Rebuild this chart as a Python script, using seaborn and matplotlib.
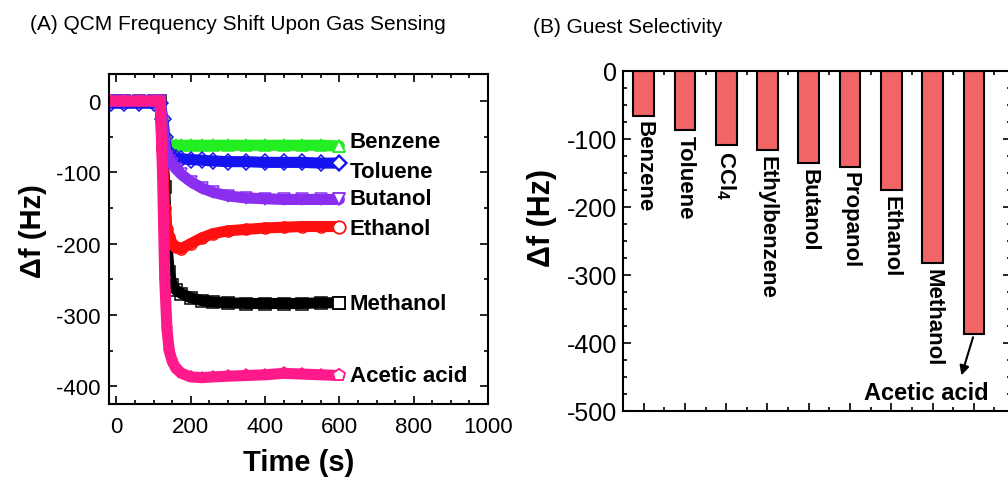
import numpy as np
import pandas as pd
import matplotlib
matplotlib.use("Agg")
import matplotlib.pyplot as plt
import seaborn as sns
from matplotlib.ticker import MultipleLocator

sns.set_style("ticks")
plt.rcParams['font.family'] = ['Liberation Sans', 'DejaVu Sans']
plt.rcParams['mathtext.fontset'] = 'custom'
plt.rcParams['mathtext.rm'] = 'Liberation Sans'
plt.rcParams['mathtext.bf'] = 'Liberation Sans:bold'
plt.rcParams['axes.unicode_minus'] = False
for key in ['text.color', 'axes.labelcolor', 'xtick.color', 'ytick.color', 'axes.edgecolor']:
    plt.rcParams[key] = 'black'

# ---- panel A: QCM frequency shift vs time ----
times = [-15, 20, 60, 100, 118, 124, 130, 136, 142, 150, 160, 175, 200,
         230, 260, 300, 350, 400, 450, 500, 550, 600]
benzene = [0, 0, 0, 0, 0, -20, -45, -58, -61, -62, -62, -62, -62,
           -62, -62, -62, -62, -62, -62, -62, -62, -63]
toluene = [-3, -3, -3, -3, -3, -25, -50, -70, -76, -78, -80, -81, -82,
           -83, -84, -85, -85, -86, -86, -86, -87, -87]
butanol = [0, 0, 0, 0, 0, -30, -60, -78, -84, -88, -95, -103, -113,
           -122, -128, -133, -136, -137, -138, -138, -138, -138]
ethanol = [0, 0, 0, 0, 0, -80, -150, -180, -190, -200, -205, -207, -200,
           -192, -186, -182, -180, -178, -177, -176, -176, -176]
methanol = [0, 0, 0, 0, 0, -60, -120, -200, -240, -258, -265, -270, -276,
            -280, -282, -283, -284, -284, -284, -284, -283, -283]
acetic = [0, 0, 0, 0, 0, -100, -250, -320, -350, -365, -375, -382, -387,
          -388, -387, -386, -385, -384, -382, -383, -384, -385]

series_names = ['Methanol', 'Ethanol', 'Benzene', 'Toluene', 'Butanol', 'Acetic acid']
series_vals = [methanol, ethanol, benzene, toluene, butanol, acetic]
series_colors = ['#000000', '#ff1010', '#22ee22', '#1414f0', '#8a2ff0', '#ff1a8c']
series_markers = ['s', 'o', '^', 'D', 'v', 'p']
end_sizes = [9, 9, 9, 7, 9, 9]
label_y = [-284, -179, -57, -99, -137, -385]

# ---- panel B: guest selectivity ----
guests = ['Benzene', 'Toluene', 'CCl$_\\mathbf{4}$', 'Ethylbenzene', 'Butanol',
          'Propanol', 'Ethanol', 'Methanol', 'Acetic acid']
shifts = [-66, -87, -109, -117, -136, -141, -176, -283, -387]

fig = plt.figure(figsize=(10.08, 4.85), dpi=100)
axA = fig.add_axes([109 / 1008, 80 / 485, 379 / 1008, 330 / 485])
axB = fig.add_axes([623 / 1008, 73.3 / 485, 388 / 1008, 340 / 485])

for name, vals, col, mk, es, ly in zip(series_names, series_vals, series_colors,
                                       series_markers, end_sizes, label_y):
    df = pd.DataFrame({'t': times, 'df': vals})
    sns.lineplot(data=df, x='t', y='df', ax=axA, color=col, linewidth=8,
                 marker=mk, markersize=8, markerfacecolor='none',
                 markeredgecolor=col, markeredgewidth=1.1)
    axA.plot(times[-1], vals[-1], marker=mk, markersize=es, color=col,
             markerfacecolor='white', markeredgewidth=1.3, zorder=5)
    axA.text(628, ly, name, fontsize=16, fontweight='bold', va='center', ha='left')

axA.set_xlim(-20, 1000)
axA.set_ylim(-425, 38)
axA.xaxis.set_major_locator(MultipleLocator(200))
axA.xaxis.set_minor_locator(MultipleLocator(50))
axA.yaxis.set_major_locator(MultipleLocator(100))
axA.yaxis.set_minor_locator(MultipleLocator(50))
axA.tick_params(which='both', direction='in', top=True, right=True, width=1.2)
axA.tick_params(which='major', length=6, labelsize=16)
axA.tick_params(axis='y', which='major', pad=6)
axA.tick_params(axis='x', which='major', pad=9)
axA.tick_params(which='minor', length=3)
axA.set_xlabel('Time (s)', fontsize=21, fontweight='bold')
axA.set_ylabel('Δf (Hz)', fontsize=21, fontweight='bold')
axA.xaxis.set_label_coords(0.5, -0.133)
axA.yaxis.set_label_coords(-0.164, 0.527)
for s in axA.spines.values():
    s.set_linewidth(1.5)

barDf = pd.DataFrame({'guest': guests, 'shift': shifts})
sns.barplot(data=barDf, x='guest', y='shift', ax=axB, color='#f26566',
            saturation=1, width=0.5, edgecolor='black', linewidth=1.5)
for i, (g, v) in enumerate(zip(guests, shifts)):
    if i == len(guests) - 1:
        continue
    axB.text(i, v - 7, g, rotation=270, fontsize=16, fontweight='bold',
             ha='center', va='top')
axB.annotate('', xy=(7.68, -452), xytext=(8, -388),
             arrowprops=dict(arrowstyle='-|>', color='black', lw=1.5,
                             mutation_scale=14))
axB.text(6.86, -473, guests[-1], fontsize=17, fontweight='bold',
         ha='center', va='center')

axB.set_xlim(-0.5, 8.9)
axB.set_ylim(-500, 0)
axB.xaxis.set_minor_locator(MultipleLocator(0.5))
axB.yaxis.set_major_locator(MultipleLocator(100))
axB.yaxis.set_minor_locator(MultipleLocator(25))
axB.set_xticklabels([])
axB.tick_params(which='both', direction='in', top=True, right=True, width=1.2)
axB.tick_params(which='major', length=6, labelsize=18, pad=4)
axB.tick_params(which='minor', length=3)
axB.set_xlabel('')
axB.set_ylabel('Δf (Hz)', fontsize=22, fontweight='bold')
axB.yaxis.set_label_coords(-0.170, 0.57)
for s in axB.spines.values():
    s.set_linewidth(1.5)

fig.text(30 / 1008, 1 - 25 / 485, '(A) QCM Frequency Shift Upon Gas Sensing',
         fontsize=15, va='center', ha='left')
fig.text(533 / 1008, 1 - 27.5 / 485, '(B) Guest Selectivity',
         fontsize=15, va='center', ha='left')

fig.savefig('out.png', dpi=100)
